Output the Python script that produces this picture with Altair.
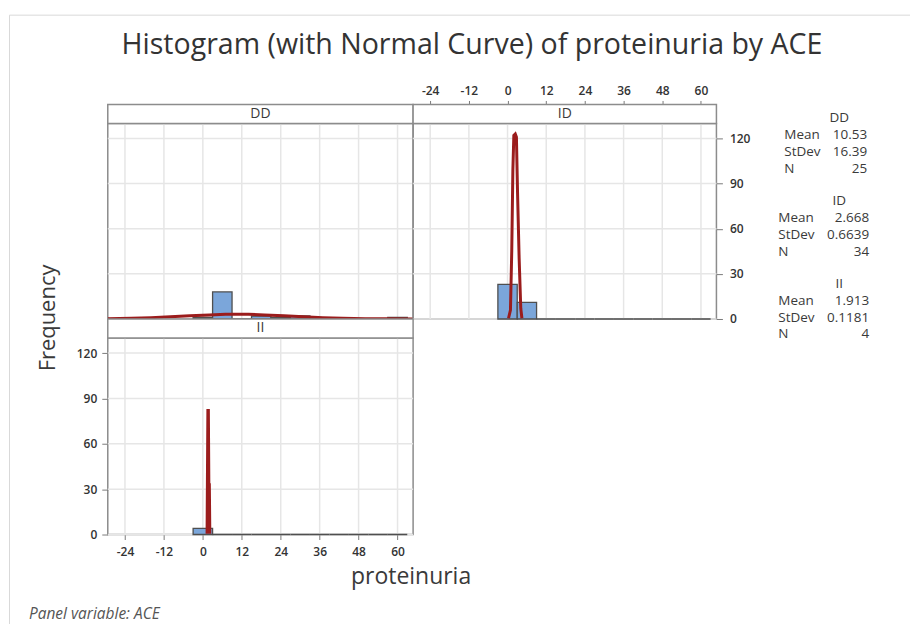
import altair as alt
import pandas as pd

# ---------------- data ----------------
panel_names = ["DD", "ID", "II"]
bin_starts = [-3, 3, 9, 15, 21, 27, 33, 39, 45, 51, 57]
bin_ends = [3, 9, 15, 21, 27, 33, 39, 45, 51, 57, 63]
counts_DD = [1, 18, 0, 2, 1, 2, 0, 0, 0, 0, 1]
counts_ID = [23, 11, 0, 0, 0, 0, 0, 0, 0, 0, 0]
counts_II = [4, 0, 0, 0, 0, 0, 0, 0, 0, 0, 0]

# normal curves
curve_DD_x = [-29.3, -22, -16, -10, -4, 2, 7, 10.5, 14, 19, 25, 31, 37, 43, 50, 57, 64.8]
curve_DD_y = [0.2, 0.5, 0.9, 1.5, 2.1, 2.7, 3.1, 3.2, 3.1, 2.7, 2.1, 1.5, 0.9, 0.5, 0.2, 0.1, 0.0]
curve_ID_x = [0.3, 0.9, 1.3, 1.65, 1.95, 2.4, 2.75, 3.1, 3.6, 4.1, 4.45]
curve_ID_y = [0.5, 6, 45, 99, 122, 123, 121, 84, 40, 7, 0.5]
curve_II_x = [1.3, 1.55, 1.7, 1.85, 2.0, 2.15]
curve_II_y = [0.5, 82, 82, 33, 33, 0.5]

x_ticks = [-24, -12, 0, 12, 24, 36, 48, 60]
y_ticks = [0, 30, 60, 90, 120]
x_domain = [-29.3, 64.8]
y_domain = [0, 130]

stat_groups = ["DD", "ID", "II"]
stat_labels = ["Mean", "StDev", "N"]
stat_mean = ["10.53", "2.668", "1.913"]
stat_stdev = ["16.39", "0.6639", "0.1181"]
stat_n = ["25", "34", "4"]

title_text = "Histogram (with Normal Curve) of proteinuria by ACE"
x_title = "proteinuria"
y_title = "Frequency"
footer_text = "Panel variable: ACE"

# ---------------- style ----------------
FONT = "Open Sans"
BAR = "#7ba6da"
EDGE = "#4f4f4f"
RED = "#9b1c1c"
GRID = "#e6e6e6"
BORDER = "#8c8c8c"
TXT = "#3a3a3a"
LBL = "#333333"

XS = alt.Scale(domain=x_domain, nice=False, zero=False)
YS = alt.Scale(domain=y_domain, nice=False, zero=False)
one = pd.DataFrame({"k": [0]})


def axis(orient, values, tick, pad, offset=0):
    return alt.Axis(orient=orient, values=values, offset=offset, tickSize=tick,
                    tickColor="#7a7a7a", tickWidth=1, domain=False, grid=False,
                    labelFont=FONT, labelFontSize=12, labelFontWeight=600,
                    labelColor=LBL, labelPadding=pad, labelFlush=False,
                    labelOverlap=False, labelExpr="'' + datum.value", title=None)


def txt(text, x, y, size, align="center", baseline="middle", angle=0, style="normal",
        color=TXT):
    return alt.Chart(pd.DataFrame({"t": [text]})).mark_text(
        font=FONT, fontSize=size, align=align, baseline=baseline, angle=angle,
        fontStyle=style, color=color).encode(x=alt.value(x), y=alt.value(y), text="t:N")


def panel(name, counts, cx, cy, w, h, xaxis=None, yaxis=None, extra=()):
    bars = pd.DataFrame({"start": bin_starts, "end": bin_ends, "count": counts})
    curve = pd.DataFrame({"x": cx, "y": cy})
    gx = alt.Chart(pd.DataFrame({"v": x_ticks})).mark_rule(color=GRID, strokeWidth=1.5).encode(
        x=alt.X("v:Q", scale=XS, axis=xaxis, title=None))
    gy = alt.Chart(pd.DataFrame({"v": y_ticks})).mark_rule(color=GRID, strokeWidth=1.5).encode(
        y=alt.Y("v:Q", scale=YS, axis=yaxis, title=None))
    b = alt.Chart(bars).mark_rect(fill=BAR, stroke=EDGE, strokeWidth=1.3).encode(
        x=alt.X("start:Q", scale=XS, axis=xaxis, title=None), x2="end:Q",
        y=alt.Y("count:Q", scale=YS, axis=yaxis, title=None), y2=alt.datum(0))
    c = alt.Chart(curve).mark_line(color=RED, strokeWidth=3, clip=True).encode(
        x=alt.X("x:Q", scale=XS, axis=xaxis, title=None),
        y=alt.Y("y:Q", scale=YS, axis=yaxis, title=None))
    hr = alt.Chart(one).mark_rect(fill="white", stroke=BORDER, strokeWidth=1.5).encode(
        x=alt.value(0), x2=alt.value(w), y=alt.value(-19), y2=alt.value(0))
    ht = txt(name, w / 2, -9.5, 14)
    return alt.layer(gx, gy, b, c, hr, ht, *extra).properties(width=w, height=h)


# DD panel origin on page: (107, 122)
dd_extra = [
    alt.Chart(one).mark_rule(color="#d9d9d9", strokeWidth=1).encode(
        x=alt.value(-98.5), y=alt.value(-108.5), y2=alt.value(502)),
    alt.Chart(one).mark_rule(color="#d9d9d9", strokeWidth=1).encode(
        x=alt.value(-98.5), x2=alt.value(804), y=alt.value(-108.5)),
    txt(title_text, 365, -69.5, 28.6, baseline="alphabetic", color="#333333"),
    txt(y_title, -60.3, 195, 22, angle=270),
    txt(x_title, 304, 462, 23, baseline="alphabetic"),
    txt(footer_text, -79, 497, 15.5, align="left", baseline="alphabetic", style="italic",
        color="#555555"),
]

# ID panel origin on page: (413, 122); stats block to the right
id_extra = []
for i, g in enumerate(stat_groups):
    y0 = 117 + i * 83 - 122
    left = (785 if i == 0 else 779) - 413
    right = (868 if i == 0 else 870) - 413
    id_extra.append(txt(g, 427, y0, 13.5))
    vals = [stat_mean[i], stat_stdev[i], stat_n[i]]
    for j, lab in enumerate(stat_labels):
        yy = y0 + 17 + j * 16.7
        id_extra.append(txt(lab, left, yy, 13.5, align="left"))
        id_extra.append(txt(vals[j], right, yy, 13.5, align="right"))

dd = panel("DD", counts_DD, curve_DD_x, curve_DD_y, 306, 196, extra=dd_extra)
idp = panel("ID", counts_ID, curve_ID_x, curve_ID_y, 304, 196,
            xaxis=axis("top", x_ticks, 4, 3, offset=19),
            yaxis=axis("right", y_ticks, 6, 7), extra=id_extra)
ii = panel("II", counts_II, curve_II_x, curve_II_y, 306, 197,
           xaxis=axis("bottom", x_ticks, 5, 7),
           yaxis=axis("left", y_ticks, 6, 5))

chart = alt.concat(dd, idp, ii, columns=2, spacing={"row": 19, "column": 0},
                   bounds="flush").properties(
    padding={"left": 0, "top": 5, "right": 0, "bottom": 0},
    background="white",
).configure_view(stroke=BORDER, strokeWidth=1.5)

chart.save("out.html", embed_options={"renderer": "svg", "actions": False})
